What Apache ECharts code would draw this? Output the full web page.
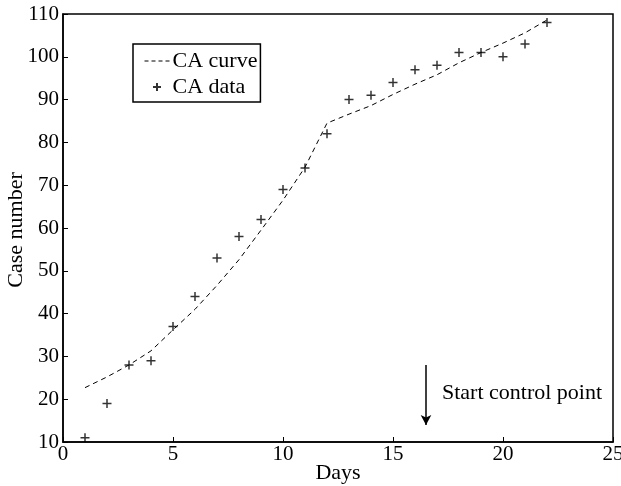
<!DOCTYPE html>
<html>
<head>
<meta charset="utf-8">
<script src="https://cdn.jsdelivr.net/npm/echarts@6/dist/echarts.min.js"></script>
<style>
  html, body { margin: 0; padding: 0; background: #fff; }
  #main { width: 621px; height: 486px; }
</style>
</head>
<body>
<div id="main"></div>
<script>
var days = [1, 2, 3, 4, 5, 6, 7, 8, 9, 10, 11, 12, 13, 14, 15, 16, 17, 18, 19, 20, 21, 22];
var caData = [11, 19, 28, 29, 37, 44, 53, 58, 62, 69, 74, 82, 90, 91, 94, 97, 98, 101, 101, 100, 103, 108];
var caCurve = [22.7, 25.2, 28, 31.3, 36.2, 41, 46.6, 52.6, 59.5, 66.5, 74.2, 84.5, 86.6, 88.6, 91.2, 93.6, 95.8, 98.6, 101, 103.2, 105.6, 108.6];
var xTicks = [0, 5, 10, 15, 20, 25];
var yTicks = [10, 20, 30, 40, 50, 60, 70, 80, 90, 100, 110];
var arrowFrom = [16.5, 28];
var arrowTo = [16.5, 14];
var noteText = 'Start control point';
var xName = 'Days';
var yName = 'Case number';

var font = 'Liberation Serif';
var myChart = echarts.init(document.getElementById('main'));

function pairs(xs, ys) {
  return xs.map(function (x, i) { return [x, ys[i]]; });
}

var option = {
  animation: false,
  grid: {
    left: 63, right: 8, top: 14, bottom: 44,
    outerBoundsMode: 'none',
    show: true, borderColor: '#000', borderWidth: 1.5
  },
  // axis titles
  graphic: [
    {
      type: 'text', x: 338, y: 473,
      style: { text: xName, font: '22px "Liberation Serif"', fill: '#000', align: 'center', verticalAlign: 'middle' }
    },
    {
      type: 'text', x: 16, y: 230, rotation: Math.PI / 2,
      style: { text: yName, font: '22px "Liberation Serif"', fill: '#000', align: 'center', verticalAlign: 'middle' }
    }
  ],
  legend: {
    orient: 'vertical',
    left: 133, top: 44,
    itemWidth: 25, itemHeight: 8, itemGap: 4,
    padding: [6, 3, 4, 11],
    borderColor: '#000', borderWidth: 1.5,
    textStyle: { fontFamily: font, fontSize: 22, color: '#000', padding: [0, 0, 0, -2] },
    data: [
      { name: 'CA curve', itemStyle: { opacity: 0 }, lineStyle: { type: [4, 3], width: 1 } },
      { name: 'CA data' }
    ]
  },
  xAxis: {
    type: 'value',
    min: xTicks[0], max: xTicks[xTicks.length - 1], interval: 5,
    axisLine: { lineStyle: { color: '#000', width: 1.5 } },
    axisTick: { inside: true, length: 5, lineStyle: { color: '#000' } },
    axisLabel: { fontFamily: font, fontSize: 21, color: '#000', margin: 2 },
    splitLine: { show: false }
  },
  yAxis: {
    type: 'value',
    min: yTicks[0], max: yTicks[yTicks.length - 1], interval: 10,
    axisLine: { lineStyle: { color: '#000', width: 1.5 } },
    axisTick: { inside: true, length: 5, lineStyle: { color: '#000' } },
    axisLabel: { fontFamily: font, fontSize: 21, color: '#000', margin: 4 },
    splitLine: { show: false }
  },
  series: [
    {
      name: 'CA curve',
      type: 'line',
      data: pairs(days, caCurve),
      symbol: 'none',
      itemStyle: { color: '#000' },
      lineStyle: { color: '#000', width: 1, type: [5, 4] },
      markLine: {
        silent: true,
        symbol: ['none', 'arrow'],
        symbolSize: [8, 10],
        lineStyle: { color: '#000', width: 1.5, type: 'solid' },
        label: { show: false },
        data: [[{ coord: arrowFrom }, { coord: arrowTo }]]
      },
      markPoint: {
        silent: true,
        symbolSize: 0,
        label: {
          show: true, position: 'right', distance: 16,
          fontFamily: font, fontSize: 22, color: '#000',
          formatter: noteText
        },
        data: [{ coord: [arrowFrom[0], (arrowFrom[1] + arrowTo[1]) / 2 + 0.5] }]
      }
    },
    {
      name: 'CA data',
      type: 'scatter',
      data: pairs(days, caData),
      symbol: 'path://M0,5L10,5M5,0L5,10',
      symbolSize: 9,
      itemStyle: { color: 'none', borderColor: '#000', borderWidth: 1.5 }
    }
  ]
};

myChart.setOption(option);
</script>
</body>
</html>
